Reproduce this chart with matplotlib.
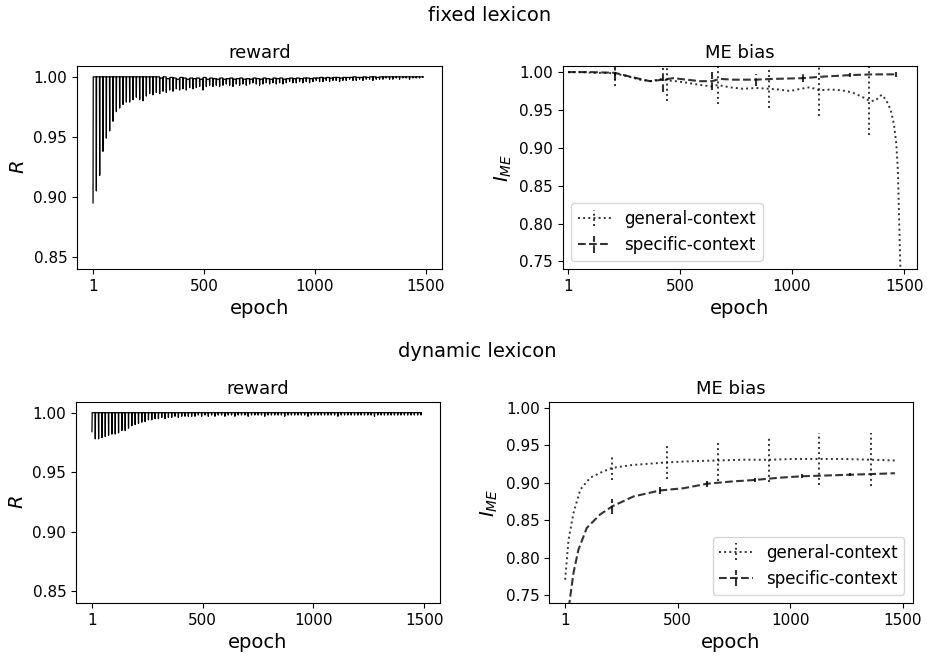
import numpy as np
import matplotlib
matplotlib.use('Agg')
from matplotlib import pyplot as plt

# reward: depth of each periodic dip, one dip every 15 epochs starting at epoch 1
dip_step = 15
fixed_dips = [0.895, 0.905, 0.918, 0.938, 0.949, 0.955, 0.963, 0.971, 0.974, 0.977,
              0.979, 0.979, 0.981, 0.983, 0.981, 0.980, 0.984, 0.986, 0.985, 0.987,
              0.986, 0.988, 0.987, 0.989, 0.988, 0.990, 0.989, 0.990, 0.989, 0.991,
              0.990, 0.991, 0.992, 0.989, 0.992, 0.993, 0.992, 0.993, 0.992, 0.993,
              0.994, 0.993, 0.992, 0.994, 0.993, 0.994, 0.993, 0.994, 0.995, 0.994,
              0.993, 0.994, 0.995, 0.994, 0.995, 0.994, 0.995, 0.994, 0.995, 0.996,
              0.995, 0.995, 0.996, 0.995, 0.996, 0.995, 0.996, 0.997, 0.996, 0.996,
              0.997, 0.996, 0.997, 0.997, 0.996, 0.997, 0.997, 0.998, 0.997, 0.997,
              0.998, 0.997, 0.998, 0.998, 0.997, 0.998, 0.998, 0.998, 0.999, 0.998,
              0.998, 0.999, 0.998, 0.999, 0.999, 0.998, 0.999, 0.999, 0.999, 0.9995]
# level the line returns to between two dips
fixed_peaks = [1.0] * 20 + [
    0.999, 1.0, 0.9985, 0.9995, 0.999, 0.998, 0.9995, 0.999, 0.998, 0.999,
    0.9985, 0.999, 0.998, 0.9995, 0.998, 0.999, 0.9985, 0.998, 0.999, 0.998,
    0.9985, 0.999, 0.998, 0.9985, 0.999, 0.998, 0.9985, 0.998, 0.999, 0.9985,
    0.998, 0.999, 0.9985, 0.998, 0.999, 0.9985, 0.999, 0.998, 0.9985, 0.999,
    0.9985, 0.999, 0.9985, 0.999, 0.999, 0.9985, 0.999, 0.999, 0.9995, 0.999,
    0.9995, 0.999, 0.9995, 0.9995, 0.999, 0.9995, 0.9995, 0.9995, 1.0, 0.9995,
    0.9995, 1.0, 0.9995, 1.0, 1.0, 0.9995, 1.0, 1.0, 1.0, 1.0,
    1.0, 1.0, 1.0, 1.0, 1.0, 1.0, 1.0, 1.0, 1.0, 1.0]
dynamic_dips = [0.984, 0.978, 0.978, 0.979, 0.980, 0.981, 0.982, 0.982, 0.983, 0.985,
                0.985, 0.987, 0.989, 0.990, 0.991, 0.992, 0.9925, 0.994, 0.994, 0.995,
                0.995, 0.996, 0.995, 0.996, 0.996, 0.997, 0.996, 0.997, 0.997, 0.997,
                0.997, 0.997, 0.998, 0.997, 0.998, 0.997, 0.998, 0.997, 0.998, 0.998,
                0.997, 0.998, 0.998, 0.997, 0.998, 0.998, 0.998, 0.997, 0.998, 0.998,
                0.998, 0.998, 0.997, 0.998, 0.998, 0.998, 0.998, 0.998, 0.997, 0.998,
                0.998, 0.998, 0.998, 0.998, 0.998, 0.997, 0.998, 0.998, 0.998, 0.998,
                0.998, 0.998, 0.998, 0.998, 0.997, 0.998, 0.998, 0.998, 0.998, 0.998,
                0.998, 0.998, 0.998, 0.998, 0.998, 0.997, 0.998, 0.998, 0.998, 0.998,
                0.998, 0.998, 0.998, 0.998, 0.998, 0.998, 0.998, 0.998, 0.998, 0.998]
dynamic_peaks = [1.0] * 100

# ME bias, fixed lexicon
gen_fixed_x = [1, 60, 120, 180, 210, 260, 320, 370, 420, 443, 480, 530, 590, 640, 669,
               720, 780, 840, 896, 940, 990, 1040, 1080, 1122, 1170, 1220, 1270, 1315,
               1345, 1370, 1400, 1420, 1440, 1455, 1465, 1472, 1478, 1485]
gen_fixed_y = [1.000, 1.000, 0.999, 0.999, 0.998, 0.995, 0.990, 0.988, 0.991, 0.989,
               0.988, 0.986, 0.983, 0.981, 0.983, 0.980, 0.978, 0.979, 0.978, 0.977,
               0.975, 0.978, 0.980, 0.976, 0.977, 0.976, 0.973, 0.967, 0.962, 0.962,
               0.970, 0.963, 0.950, 0.930, 0.905, 0.871, 0.800, 0.720]
gen_fixed_bar_x = [210, 443, 669, 896, 1122, 1345]
gen_fixed_bar_err = [0.016, 0.027, 0.025, 0.025, 0.034, 0.045]

spec_fixed_x = [1, 100, 210, 277, 322, 366, 426, 470, 530, 589, 643, 678, 737, 838,
                916, 1048, 1138, 1258, 1361, 1463]
spec_fixed_y = [1.000, 1.000, 0.999, 0.994, 0.991, 0.988, 0.990, 0.992, 0.990, 0.988,
                0.988, 0.991, 0.990, 0.990, 0.991, 0.992, 0.994, 0.996, 0.997, 0.997]
spec_fixed_bar_x = [210, 426, 643, 838, 1048, 1258, 1463]
spec_fixed_bar_err = [0.010, 0.016, 0.012, 0.008, 0.005, 0.003, 0.003]

# ME bias, dynamic lexicon
gen_dyn_x = [1, 16, 38, 68, 112, 160, 208, 300, 452, 560, 678, 790, 906, 1010, 1129,
             1240, 1358, 1464]
gen_dyn_y = [0.771, 0.824, 0.860, 0.891, 0.907, 0.914, 0.920, 0.924, 0.9275, 0.929,
             0.930, 0.931, 0.931, 0.932, 0.932, 0.932, 0.931, 0.930]
gen_dyn_bar_x = [208, 452, 678, 906, 1129, 1358]
gen_dyn_bar_err = [0.016, 0.022, 0.027, 0.030, 0.035, 0.035]

spec_dyn_x = [1, 20, 38, 60, 97, 156, 211, 304, 421, 526, 631, 740, 842, 950, 1053,
              1160, 1264, 1370, 1464]
spec_dyn_y = [0.69, 0.74, 0.780, 0.811, 0.840, 0.858, 0.869, 0.882, 0.890, 0.893,
              0.899, 0.902, 0.904, 0.907, 0.909, 0.910, 0.911, 0.912, 0.913]
spec_dyn_bar_x = [211, 421, 631, 842, 1053, 1264]
spec_dyn_bar_err = [0.010, 0.005, 0.004, 0.003, 0.003, 0.002]

epoch_ticks = [1, 500, 1000, 1500]
reward_ticks = [0.85, 0.90, 0.95, 1.00]
me_ticks = [0.75, 0.80, 0.85, 0.90, 0.95, 1.00]


def reward_line(dips, peaks):
    xs, ys = [], []
    for i, (d, p) in enumerate(zip(dips, peaks)):
        e = 1 + i * dip_step
        prev = peaks[i - 1] if i > 0 else p
        xs += [e - 1, e, e + 1]
        ys += [prev, d, p]
    return xs[1:], ys[1:]


def plot_reward(ax, dips, peaks):
    xs, ys = reward_line(dips, peaks)
    ax.plot(xs, ys, color='k', lw=0.9)
    ax.set_title('reward', fontsize=13)
    ax.set_ylabel('$R$', fontsize=14)
    ax.set_xlabel('epoch', fontsize=14)
    ax.set_xticks(epoch_ticks)
    ax.set_yticks(reward_ticks)
    ax.set_yticklabels(['%.2f' % t for t in reward_ticks])
    ax.set_xlim(-71, 1572)
    ax.set_ylim(0.84, 1.009)


def me_series(ax, x, y, bar_x, bar_err, ls, lw, label):
    x = np.array(x)
    err = np.zeros(len(x))
    mask = np.isin(x, bar_x)
    err[mask] = bar_err
    eb = ax.errorbar(x, y, yerr=err, errorevery=mask, color='k', alpha=0.8,
                     ls=ls, lw=lw, elinewidth=lw, capsize=0, label=label)
    eb[2][0].set_linestyle(ls)
    return eb


def plot_me(ax, gen, spec, loc, xlim):
    me_series(ax, *gen, ':', 1.4, 'general-context')
    me_series(ax, *spec, '--', 1.5, 'specific-context')
    ax.set_title('ME bias', fontsize=13)
    ax.set_ylabel('$I_{ME}$', fontsize=14)
    ax.set_xlabel('epoch', fontsize=14)
    ax.set_xticks(epoch_ticks)
    ax.set_yticks(me_ticks)
    ax.set_yticklabels(['%.2f' % t for t in me_ticks])
    ax.set_xlim(*xlim)
    ax.set_ylim(0.74, 1.008)
    ax.legend(loc=loc, fontsize=12)


fig = plt.figure(figsize=(9.27, 6.59), dpi=100)

ax_tl = fig.add_axes([0.0831, 0.5918, 0.3937, 0.3080])
ax_tr = fig.add_axes([0.6070, 0.5918, 0.3819, 0.3080])
ax_bl = fig.add_axes([0.0820, 0.0850, 0.3927, 0.3050])
ax_br = fig.add_axes([0.5926, 0.0850, 0.3920, 0.3050])

for ax in (ax_tl, ax_tr, ax_bl, ax_br):
    ax.tick_params(labelsize=11)

plot_reward(ax_tl, fixed_dips, fixed_peaks)
plot_reward(ax_bl, dynamic_dips, dynamic_peaks)
plot_me(ax_tr, (gen_fixed_x, gen_fixed_y, gen_fixed_bar_x, gen_fixed_bar_err),
        (spec_fixed_x, spec_fixed_y, spec_fixed_bar_x, spec_fixed_bar_err),
        'lower left', (-23, 1556))
plot_me(ax_br, (gen_dyn_x, gen_dyn_y, gen_dyn_bar_x, gen_dyn_bar_err),
        (spec_dyn_x, spec_dyn_y, spec_dyn_bar_x, spec_dyn_bar_err),
        'lower right', (-69, 1543))

fig.text(0.528, 0.977, 'fixed lexicon', ha='center', va='center', fontsize=14)
fig.text(0.515, 0.466, 'dynamic lexicon', ha='center', va='center', fontsize=14)

fig.savefig('out.png', dpi=100)
plt.close()
